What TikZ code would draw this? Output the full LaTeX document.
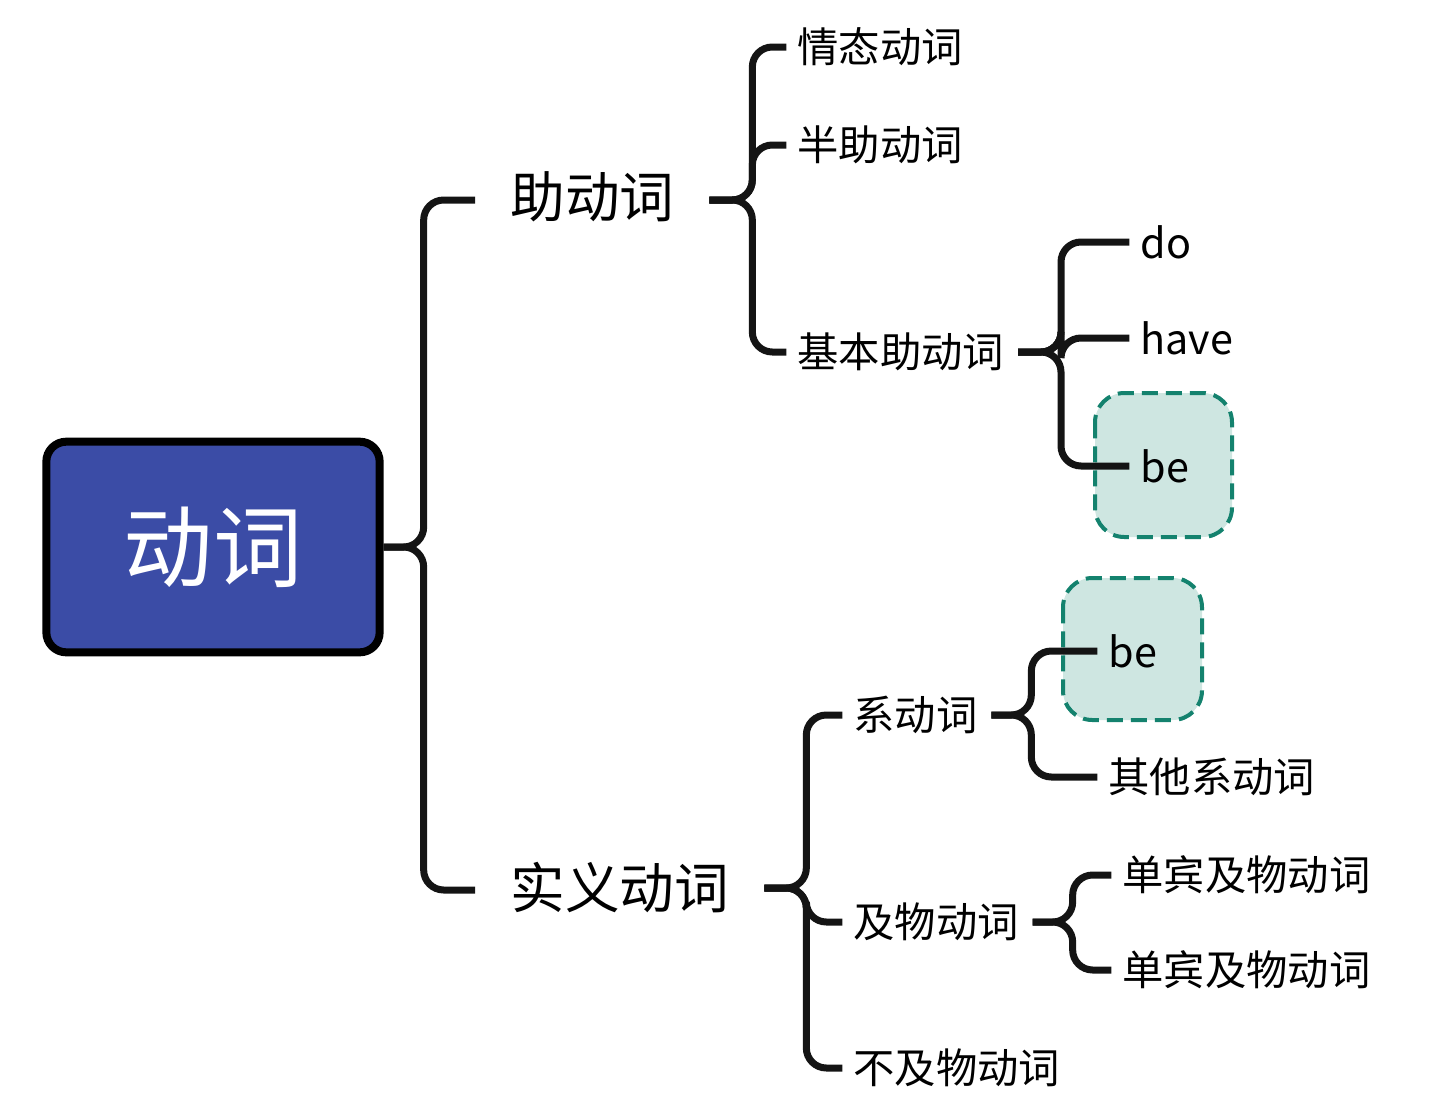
\documentclass[tikz,border=0pt]{standalone}
\usepackage{fontspec}
\setmainfont{Noto Sans CJK SC}
\definecolor{rootblue}{RGB}{59,76,166}
\definecolor{befill}{RGB}{206,230,225}
\definecolor{bedash}{RGB}{20,130,110}
\tikzset{every picture/.style={line width=0.75pt}}
\tikzset{
  branch/.style={line width=5.25pt, color={rgb,255:red,20;green,20;blue,20}, rounded corners=15pt},
  big/.style={anchor=west, inner sep=0pt, font=\fontsize{41}{41}\selectfont},
  small/.style={anchor=west, inner sep=0pt, font=\fontsize{31}{31}\selectfont},
  bebox/.style={draw=bedash, fill=befill, line width=3pt, dash pattern={on 12pt off 6pt}, rounded corners=22pt}
}
\begin{document}
\begin{tikzpicture}[x=0.75pt,y=0.75pt,yscale=-1,xscale=1]
\useasboundingbox (0,0) rectangle (1440,1118);

% highlight boxes
\draw[bebox] (1095,393) rectangle (1232,537);
\draw[bebox] (1063,578) rectangle (1202,720);

% root
\node[draw, line width=6pt, fill=rootblue, rounded corners=15pt, minimum width=250pt, minimum height=158pt, text=white, font=\fontsize{67}{67}\selectfont] (verb) at (213,547) {动词};

% level 1
\node[big] (aux) at (510,197) {助动词};
\node[big] (real) at (510,888) {实义动词};
\coordinate (auxin) at (475,200);
\coordinate (realin) at (475,890);

% level 2
\node[small] (modal) at (797,47) {情态动词};
\node[small] (semi) at (797,145) {半助动词};
\node[small] (basic) at (797,352) {基本助动词};
\node[small] (link) at (853,715) {系动词};
\node[small] (trans) at (853,922) {及物动词};
\node[small] (intrans) at (853,1068) {不及物动词};

% level 3
\node[small] (do) at (1140,242) {do};
\node[small] (have) at (1140,338) {have};
\node[small] (be) at (1140,466) {be};
\node[small] (lbe) at (1108,651) {be};
\node[small] (other) at (1108,777) {其他系动词};
\node[small] (mono1) at (1122,875) {单宾及物动词};
\node[small] (mono2) at (1122,970) {单宾及物动词};

% connectors
\draw[branch] (verb.east) -- ++(40,0) |- (auxin);
\draw[branch] (verb.east) -- ++(40,0) |- (realin);

\draw[branch] ([xshift=-2pt]aux.east) ++(37,3) -- ++(43,0) |- ([xshift=-8pt]modal.west);
\draw[branch] ([xshift=-2pt]aux.east) ++(37,3) -- ++(43,0) |- ([xshift=-8pt]semi.west);
\draw[branch] ([xshift=-2pt]aux.east) ++(37,3) -- ++(43,0) |- ([xshift=-8pt]basic.west);

\draw[branch] ([xshift=10pt]basic.east) -- ++(43,0) |- ([xshift=-8pt]do.west);
\draw[branch] ([xshift=10pt]basic.east) -- ++(43,0) |- ([xshift=-8pt]have.west);
\draw[branch] ([xshift=10pt]basic.east) -- ++(43,0) |- ([xshift=-8pt]be.west);

\draw[branch] ([xshift=26pt]real.east) -- ++(42,0) |- ([xshift=-8pt]link.west);
\draw[branch] ([xshift=26pt]real.east) -- ++(42,0) |- ([xshift=-8pt]trans.west);
\draw[branch] ([xshift=26pt]real.east) -- ++(42,0) |- ([xshift=-8pt]intrans.west);

\draw[branch] ([xshift=10pt]link.east) -- ++(40,0) |- ([xshift=-8pt]lbe.west);
\draw[branch] ([xshift=10pt]link.east) -- ++(40,0) |- ([xshift=-8pt]other.west);

\draw[branch] ([xshift=10pt]trans.east) -- ++(40,0) |- ([xshift=-8pt]mono1.west);
\draw[branch] ([xshift=10pt]trans.east) -- ++(40,0) |- ([xshift=-8pt]mono2.west);
\end{tikzpicture}
\end{document}
